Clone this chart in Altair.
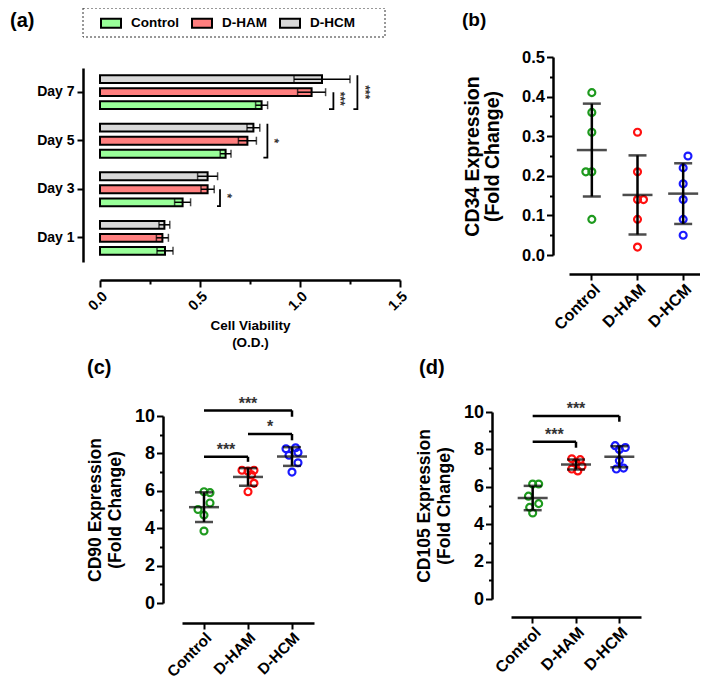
import altair as alt
import pandas as pd

FONT = "Liberation Sans"

# ------------------------------------------------------------------ data
DAYS = ["Day 7", "Day 5", "Day 3", "Day 1"]
GROUPS = ["Control", "D-HAM", "D-HCM"]
BAR_ORDER = ["D-HCM", "D-HAM", "Control"]
BAR_COLORS = ["#99ff99", "#ff7f7f", "#d9d9d9"]
POINT_COLORS = ["#1e9a1e", "#ff1010", "#1a1aff"]

# (a) cell viability (O.D.), mean and error, days in order below
VIAB_DAYS = ["Day 1", "Day 3", "Day 5", "Day 7"]
VIAB_CONTROL = [0.325, 0.413, 0.628, 0.808]
VIAB_CONTROL_ERR = [0.04, 0.04, 0.027, 0.03]
VIAB_DHAM = [0.312, 0.538, 0.737, 1.058]
VIAB_DHAM_ERR = [0.03, 0.033, 0.045, 0.07]
VIAB_DHCM = [0.322, 0.538, 0.767, 1.11]
VIAB_DHCM_ERR = [0.027, 0.05, 0.032, 0.14]

# (a) significance brackets
SIG_A_DAY = ["Day 7", "Day 7", "Day 5", "Day 3"]
SIG_A_TOP = ["D-HAM", "D-HCM", "D-HCM", "D-HAM"]
SIG_A_BOTTOM = ["Control", "Control", "Control", "Control"]
SIG_A_X = [1.167, 1.287, 0.837, 0.60]
SIG_A_FOOT = [1.145, 1.267, 0.817, 0.585]
SIG_A_TEXT = ["***", "***", "*", "*"]
SIG_A_TEXT_X = [1.20, 1.325, 0.87, 0.635]

# (b) CD34
CD34_CONTROL = [0.41, 0.36, 0.31, 0.21, 0.21, 0.09]
CD34_DHAM = [0.31, 0.21, 0.14, 0.14, 0.09, 0.02]
CD34_DHCM = [0.25, 0.22, 0.18, 0.14, 0.09, 0.05]
CD34_JIT_CONTROL = [0, 0, 0, -1, 0, 0]
CD34_JIT_DHAM = [0, 0, 0, 1, 0, 0]
CD34_JIT_DHCM = [0.8, 0, 0, 0, 0, 0]

# (c) CD90
CD90_CONTROL = [5.95, 5.9, 5.35, 5.0, 4.7, 3.85]
CD90_DHAM = [7.1, 7.05, 7.1, 6.85, 6.4, 5.95]
CD90_DHCM = [8.25, 8.3, 8.05, 7.9, 7.5, 7.0]
CD90_JIT_CONTROL = [0, 1, 1, -1, 0, 0]
CD90_JIT_DHAM = [-1, 0, 1, 0.6, 1, 0]
CD90_JIT_DHCM = [-1, 0.6, 1, -0.5, 1, 0]
CD90_BR_FROM = ["Control", "D-HAM", "Control"]
CD90_BR_TO = ["D-HAM", "D-HCM", "D-HCM"]
CD90_BR_LEVEL = [7.82, 9.04, 10.3]
CD90_BR_FOOT = [7.55, 8.7, 9.96]
CD90_BR_TEXT = ["***", "*", "***"]

# (d) CD105
CD105_CONTROL = [6.15, 6.15, 5.5, 5.1, 4.9, 4.6]
CD105_DHAM = [7.5, 7.45, 7.3, 7.1, 6.95, 6.85]
CD105_DHCM = [8.2, 8.1, 8.0, 7.4, 7.0, 6.95]
CD105_JIT_CONTROL = [0, 1, -0.7, 1, -0.5, 0]
CD105_JIT_DHAM = [-0.7, 0.7, 0, 1, -0.7, 0.3]
CD105_JIT_DHCM = [-0.7, 1, 0, 0, 0.7, -0.5]
CD105_BR_FROM = ["Control", "Control"]
CD105_BR_TO = ["D-HAM", "D-HCM"]
CD105_BR_LEVEL = [8.41, 9.79]
CD105_BR_FOOT = [8.09, 9.48]
CD105_BR_TEXT = ["***", "***"]

W, H = 692, 672
JIT_PX = 6

AX = dict(domainColor="black", domainWidth=2.5, tickColor="black", tickWidth=2,
          labelColor="black", labelFont=FONT, labelFontWeight="bold",
          titleColor="black", titleFont=FONT, titleFontWeight="bold",
          grid=False, labelOverlap=False)

# ------------------------------------------------------------------ panel (a)
dfA = pd.DataFrame({
    "day": VIAB_DAYS * 3,
    "group": ["Control"] * 4 + ["D-HAM"] * 4 + ["D-HCM"] * 4,
    "value": VIAB_CONTROL + VIAB_DHAM + VIAB_DHCM,
    "err": VIAB_CONTROL_ERR + VIAB_DHAM_ERR + VIAB_DHCM_ERR,
})

xA = alt.Scale(domain=[0, 1.5], range=[92, 392], nice=False, zero=True)
yA = alt.Scale(domain=DAYS, range=[60, 254], paddingInner=0.303, paddingOuter=0.15)
yoA = alt.Scale(domain=BAR_ORDER, paddingInner=0.4, paddingOuter=0)

xAxisA = alt.Axis(orient="bottom", offset=-400,
                  values=[0, 0.25, 0.5, 0.75, 1.0, 1.25, 1.5],
                  labelExpr="round(datum.value*4) % 2 == 1 ? '' : format(datum.value, '.1f')",
                  tickSize={"condition": {"test": "round(datum.value*4) % 2 == 1", "value": 4}, "value": 7},
                  labelAngle=315, labelFontSize=14.5, labelPadding=2, labelFlush=False,
                  title=["Cell Viability", "(O.D.)"], titleFontSize=13.5,
                  titleLineHeight=17, titlePadding=6, **AX)
yAxisA = alt.Axis(orient="left", offset=-75, title=None, labelFontSize=14,
                  tickSize=6, labelPadding=3, **AX)

legA = alt.Legend(orient="none", legendX=92, legendY=4, direction="horizontal",
                  title=None, symbolType="M-1,-0.45H1V0.45H-1Z", symbolSize=400,
                  symbolStrokeColor="black", symbolStrokeWidth=2,
                  labelFont=FONT, labelFontSize=13.5, labelFontWeight="bold",
                  labelColor="black", labelOffset=9, columnPadding=9, padding=0)

layersA = []
layersA.append(alt.Chart(dfA).mark_bar(stroke="black", strokeWidth=2).encode(
    x=alt.X("value:Q", scale=xA, axis=xAxisA),
    y=alt.Y("day:N", scale=yA, axis=yAxisA),
    yOffset=alt.YOffset("group:N", scale=yoA),
    fill=alt.Fill("group:N", scale=alt.Scale(domain=GROUPS, range=BAR_COLORS), legend=legA),
))
errBase = alt.Chart(dfA).transform_calculate(
    lo="datum.value - datum.err", hi="datum.value + datum.err")
layersA.append(errBase.mark_rule(color="black", strokeWidth=1.5).encode(
    x=alt.X("lo:Q", scale=xA, axis=None), x2="hi:Q",
    y=alt.Y("day:N", scale=yA, axis=None),
    yOffset=alt.YOffset("group:N", scale=yoA),
))
for fld in ["hi", "lo"]:
    layersA.append(errBase.mark_tick(color="black", thickness=1.5, size=8).encode(
        x=alt.X(f"{fld}:Q", scale=xA, axis=None),
        y=alt.Y("day:N", scale=yA, axis=None),
        yOffset=alt.YOffset("group:N", scale=yoA),
    ))

rows = []
stars = []
for i in range(len(SIG_A_DAY)):
    rows += [
        {"id": i, "ord": 0, "day": SIG_A_DAY[i], "group": SIG_A_TOP[i], "x": SIG_A_X[i]},
        {"id": i, "ord": 1, "day": SIG_A_DAY[i], "group": SIG_A_BOTTOM[i], "x": SIG_A_X[i]},
        {"id": i, "ord": 2, "day": SIG_A_DAY[i], "group": SIG_A_BOTTOM[i], "x": SIG_A_FOOT[i]},
    ]
    it, ib = BAR_ORDER.index(SIG_A_TOP[i]), BAR_ORDER.index(SIG_A_BOTTOM[i])
    stars.append({"day": SIG_A_DAY[i], "anchor": BAR_ORDER[(it + ib) // 2],
                  "half": (it + ib) % 2, "x": SIG_A_TEXT_X[i], "text": SIG_A_TEXT[i]})
dfSigA = pd.DataFrame(rows)
dfStarA = pd.DataFrame(stars)

layersA.append(alt.Chart(dfSigA).mark_line(color="black", strokeWidth=1.8).encode(
    x=alt.X("x:Q", scale=xA, axis=None),
    y=alt.Y("day:N", scale=yA, axis=None),
    yOffset=alt.YOffset("group:N", scale=yoA),
    detail="id:N", order="ord:Q",
))
for half, dx in [(0, 0), (1, 6.5)]:
    layersA.append(
        alt.Chart(dfStarA).transform_filter(f"datum.half == {half}")
        .mark_text(angle=90, fontSize=12, fontWeight="bold", color="#333",
                   align="center", baseline="middle", dx=dx, font=FONT)
        .encode(x=alt.X("x:Q", scale=xA, axis=None),
                y=alt.Y("day:N", scale=yA, axis=None),
                yOffset=alt.YOffset("anchor:N", scale=yoA),
                text="text:N")
    )


# ------------------------------------------------------------------ strip panels
def strip_panel(values, jits, x_range, y_domain, y_range, y_values, minor_test,
                fmt, y_off, x_off, title, title_size, title_pad, ylabel_size,
                xlabel_size, brackets=None):
    recs = []
    for g, vals, js in zip(GROUPS, values, jits):
        for v, j in zip(vals, js):
            recs.append({"group": g, "value": v, "jit": j})
    df = pd.DataFrame(recs)
    bw = (x_range[1] - x_range[0]) / 3
    xs = alt.Scale(domain=GROUPS, range=x_range, paddingInner=0, paddingOuter=0)
    ys = alt.Scale(domain=y_domain, range=y_range, nice=False, zero=True)
    xo = alt.Scale(domain=[-1, 1], range=[bw / 2 - JIT_PX, bw / 2 + JIT_PX])

    xaxis = alt.Axis(orient="bottom", offset=x_off, title=None, labelAngle=315,
                     labelFontSize=xlabel_size, labelPadding=1, tickSize=6, **AX)
    yaxis = alt.Axis(orient="left", offset=y_off, values=y_values,
                     labelExpr=f"{minor_test} ? '' : format(datum.value, '{fmt}')",
                     tickSize={"condition": {"test": minor_test, "value": 3.5}, "value": 6.5},
                     labelFontSize=ylabel_size, labelPadding=2,
                     title=title, titleFontSize=title_size, titleLineHeight=20,
                     titlePadding=title_pad, **AX)

    pts = alt.Chart(df).mark_point(shape="circle", filled=False, size=48,
                                   strokeWidth=2.2, opacity=1).encode(
        x=alt.X("group:N", scale=xs, axis=xaxis),
        y=alt.Y("value:Q", scale=ys, axis=yaxis),
        xOffset=alt.XOffset("jit:Q", scale=xo),
        color=alt.Color("group:N", scale=alt.Scale(domain=GROUPS, range=POINT_COLORS), legend=None),
    )
    base = alt.Chart(df).transform_aggregate(
        mean="mean(value)", sd="stdev(value)", groupby=["group"]
    ).transform_calculate(lo="datum.mean - datum.sd", hi="datum.mean + datum.sd")
    X = alt.X("group:N", scale=xs, axis=None)
    meanT = base.mark_tick(color="black", size=30, thickness=2.5).encode(
        x=X, y=alt.Y("mean:Q", scale=ys, axis=None))
    sdR = base.mark_rule(color="black", strokeWidth=2.5).encode(
        x=X, y=alt.Y("lo:Q", scale=ys, axis=None), y2="hi:Q")
    capH = base.mark_tick(color="black", size=18, thickness=2.5).encode(
        x=X, y=alt.Y("hi:Q", scale=ys, axis=None))
    capL = base.mark_tick(color="black", size=18, thickness=2.5).encode(
        x=X, y=alt.Y("lo:Q", scale=ys, axis=None))
    layers = [pts, sdR, meanT, capH, capL]

    if brackets is not None:
        bf, bt, bl, bft, btx = brackets
        brs = []
        for f, t, l, ft, tx in zip(bf, bt, bl, bft, btx):
            i_f, i_t = GROUPS.index(f), GROUPS.index(t)
            s = i_f + i_t
            brs.append({"from": f, "to": t, "level": l, "foot": ft, "text": tx,
                        "mid": GROUPS[(s + 1) // 2], "edge": s % 2})
        dfb = pd.DataFrame(brs)
        hr = alt.Chart(dfb).mark_rule(color="black", strokeWidth=2.5).encode(
            x=alt.X("from:N", scale=xs, axis=None), x2="to:N",
            y=alt.Y("level:Q", scale=ys, axis=None))
        vr = alt.Chart(dfb).mark_rule(color="black", strokeWidth=2.5).encode(
            x=alt.X("to:N", scale=xs, axis=None),
            y=alt.Y("level:Q", scale=ys, axis=None), y2="foot:Q")
        layers += [hr, vr]
        for edge, dx in [(1, -bw / 2), (0, 0)]:
            layers.append(
                alt.Chart(dfb).transform_filter(f"datum.edge == {edge}")
                .mark_text(fontSize=16, fontWeight="bold", color="#333", font=FONT,
                           align="center", baseline="middle", dy=-6.5, dx=dx)
                .encode(x=alt.X("mid:N", scale=xs, axis=None),
                        y=alt.Y("level:Q", scale=ys, axis=None),
                        text="text:N")
            )
    return layers


layersB = strip_panel(
    [CD34_CONTROL, CD34_DHAM, CD34_DHCM], [CD34_JIT_CONTROL, CD34_JIT_DHAM, CD34_JIT_DHCM],
    x_range=[561, 698], y_domain=[0, 0.5], y_range=[247, 49],
    y_values=[round(0.05 * k, 2) for k in range(11)],
    minor_test="round(datum.value*20) % 2 == 1", fmt=".1f",
    y_off=-545, x_off=266 - H, title=["CD34 Expression", "(Fold Change)"],
    title_size=19.5, title_pad=19, ylabel_size=16.5, xlabel_size=16)

layersC = strip_panel(
    [CD90_CONTROL, CD90_DHAM, CD90_DHCM], [CD90_JIT_CONTROL, CD90_JIT_DHAM, CD90_JIT_DHCM],
    x_range=[174, 306], y_domain=[0, 10], y_range=[595, 408],
    y_values=list(range(11)), minor_test="datum.value % 2 == 1", fmt="d",
    y_off=-155, x_off=615 - H, title=["CD90 Expression", "(Fold Change)"],
    title_size=17.5, title_pad=10, ylabel_size=18, xlabel_size=15.5,
    brackets=(CD90_BR_FROM, CD90_BR_TO, CD90_BR_LEVEL, CD90_BR_FOOT, CD90_BR_TEXT))

layersD = strip_panel(
    [CD105_CONTROL, CD105_DHAM, CD105_DHCM], [CD105_JIT_CONTROL, CD105_JIT_DHAM, CD105_JIT_DHCM],
    x_range=[503, 633], y_domain=[0, 10], y_range=[591, 404],
    y_values=list(range(11)), minor_test="datum.value % 2 == 1", fmt="d",
    y_off=-484, x_off=609 - H, title=["CD105 Expression", "(Fold Change)"],
    title_size=17.5, title_pad=10, ylabel_size=18, xlabel_size=16,
    brackets=(CD105_BR_FROM, CD105_BR_TO, CD105_BR_LEVEL, CD105_BR_FOOT, CD105_BR_TEXT))

# ------------------------------------------------------------------ decorations
one = alt.Data(values=[{}])
legend_box = alt.Chart(one).mark_rect(fill="white", fillOpacity=0, stroke="#333",
                                      strokeWidth=1, strokeDash=[2, 2]).encode(
    x=alt.value(75), x2=alt.value(377), y=alt.value(0), y2=alt.value(29))


def panel_label(txt, x, y, size, baseline="alphabetic"):
    return alt.Chart(one).mark_text(font=FONT, fontWeight="bold", fontSize=size,
                                    align="left", baseline=baseline, color="black").encode(
        x=alt.value(x), y=alt.value(y), text=alt.value(txt))


labels = [panel_label("(a)", 2, 3, 20, "top"), panel_label("(b)", 454, 3, 19, "top"),
          panel_label("(c)", 79, 366, 20), panel_label("(d)", 411, 366, 20)]

chart = alt.layer(*layersA, *layersB, *layersC, *layersD, legend_box, *labels).resolve_scale(
    x="independent", y="independent", fill="independent", color="independent",
    xOffset="independent", yOffset="independent",
).properties(
    width=W, height=H, autosize=alt.AutoSizeParams(type="none"), padding=0,
    background="white",
).configure_view(strokeWidth=0)

chart.save("out.html", embed_options={"renderer": "svg", "actions": False})
